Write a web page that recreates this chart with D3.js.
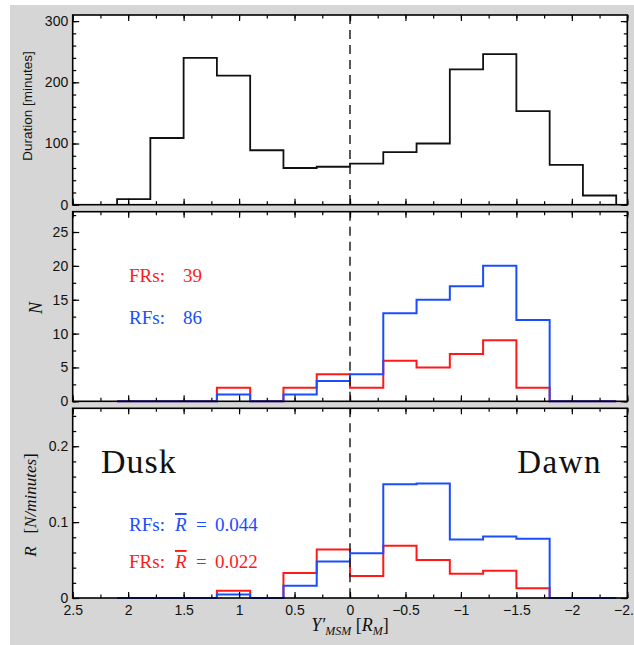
<!DOCTYPE html>
<html>
<head>
<meta charset="utf-8">
<script src="https://cdn.jsdelivr.net/npm/d3@7.9.0/dist/d3.min.js"></script>
<style>
  body { margin: 0; background: #fff; }
  svg text { font-family: "Liberation Sans", Arial, sans-serif; }
  .serif { font-family: "Liberation Serif", "Times New Roman", serif !important; }
</style>
</head>
<body>
<svg id="chart" width="634" height="645"></svg>
<script>
// bin edges along Y'_MSM (dusk on the left, dawn on the right)
const binEdges = [2.1, 1.8, 1.5, 1.2, 0.9, 0.6, 0.3, 0, -0.3, -0.6, -0.9, -1.2, -1.5, -1.8, -2.1, -2.4];

// time spent in each bin [minutes]
const duration = [9, 109, 240, 211, 89, 60, 62, 67, 86, 100, 221, 246, 153, 65, 15];

// event counts per bin
const countFR = [0, 0, 0, 2, 0, 2, 4, 2, 6, 5, 7, 9, 2, 0, 0];
const countRF = [0, 0, 0, 1, 0, 1, 3, 4, 13, 15, 17, 20, 12, 0, 0];

// rates per bin [N/minutes]
const rateFR = [0, 0, 0, 0.0094, 0, 0.033, 0.064, 0.029, 0.069, 0.050, 0.032, 0.036, 0.013, 0, 0];
const rateRF = [0, 0, 0, 0.0047, 0, 0.016, 0.048, 0.059, 0.150, 0.151, 0.077, 0.081, 0.078, 0, 0];

const xTicks = [2.5, 2, 1.5, 1, 0.5, 0, -0.5, -1, -1.5, -2, -2.5];

const RED = '#ff1a1a';
const BLUE = '#1a4dff';

const svg = d3.select('#chart');

// gray page behind the panels
svg.append('rect').attr('x', 10).attr('y', 5).attr('width', 624).attr('height', 640).attr('fill', '#d6d6d6');

const x = d3.scaleLinear().domain([2.5, -2.5]).range([72.7, 627.3]);

const panels = [
  { y: d3.scaleLinear().domain([0, 310]).range([204.7, 15]), major: [0, 100, 200, 300], minorStep: 20, fmt: d => d },
  { y: d3.scaleLinear().domain([0, 28]).range([401.3, 211.7]), major: [0, 5, 10, 15, 20, 25], minorStep: 2.5, fmt: d => d },
  { y: d3.scaleLinear().domain([0, 0.25]).range([598, 408.3]), major: [0, 0.1, 0.2], minorStep: 0.02, fmt: d => d3.format('~g')(d) },
];

function minorTicks(domain, step) {
  const out = [];
  for (let i = 0; i * step <= domain[1] + 1e-9; i++) out.push(+(i * step).toFixed(4));
  return out;
}

const xMinor = d3.range(0, 21).map(i => +(2.5 - i * 0.25).toFixed(2));

function drawStep(g, y, values, color, width) {
  const pts = [[binEdges[0], 0]];
  values.forEach((v, i) => pts.push([binEdges[i], v]));
  pts.push([binEdges[binEdges.length - 1], values[values.length - 1]]);
  pts.push([binEdges[binEdges.length - 1], 0]);
  const line = d3.line().x(d => x(d[0])).y(d => y(d[1])).curve(d3.curveStepAfter);
  g.append('path').attr('d', line(pts)).attr('fill', 'none')
    .attr('stroke', color).attr('stroke-width', width).attr('stroke-linejoin', 'miter');
}

panels.forEach((p, i) => {
  const g = svg.append('g');
  const [y0, y1] = p.y.range();
  g.append('rect').attr('x', x.range()[0]).attr('y', y1)
    .attr('width', x.range()[1] - x.range()[0]).attr('height', y0 - y1).attr('fill', '#fff');

  // data
  if (i === 0) {
    drawStep(g, p.y, duration, '#111', 1.8);
  } else if (i === 1) {
    drawStep(g, p.y, countFR, RED, 2);
    drawStep(g, p.y, countRF, BLUE, 2);
  } else {
    drawStep(g, p.y, rateFR, RED, 2);
    drawStep(g, p.y, rateRF, BLUE, 2);
  }

  // dashed line at Y' = 0
  g.append('line').attr('x1', x(0)).attr('x2', x(0)).attr('y1', y1).attr('y2', y0)
    .attr('stroke', '#222').attr('stroke-width', 1.5).attr('stroke-dasharray', '9,6');

  // axes: ticks drawn inward
  const axes = g.append('g').attr('class', 'axes');
  axes.append('g').attr('transform', `translate(${x.range()[0]},0)`)
    .call(d3.axisLeft(p.y).tickValues(p.major).tickSize(-6.5).tickPadding(4.5).tickFormat(p.fmt));
  axes.append('g').attr('transform', `translate(${x.range()[0]},0)`)
    .call(d3.axisLeft(p.y).tickValues(minorTicks(p.y.domain(), p.minorStep)).tickSize(-3.5).tickFormat(''));
  axes.append('g').attr('transform', `translate(${x.range()[1]},0)`)
    .call(d3.axisRight(p.y).tickValues(p.major).tickSize(-6.5).tickFormat(''));
  axes.append('g').attr('transform', `translate(${x.range()[1]},0)`)
    .call(d3.axisRight(p.y).tickValues(minorTicks(p.y.domain(), p.minorStep)).tickSize(-3.5).tickFormat(''));
  axes.append('g').attr('transform', `translate(0,${y1})`)
    .call(d3.axisTop(x).tickValues(xTicks).tickSize(-6).tickFormat(''));
  axes.append('g').attr('transform', `translate(0,${y1})`)
    .call(d3.axisTop(x).tickValues(xMinor).tickSize(-3.5).tickFormat(''));
  axes.append('g').attr('transform', `translate(0,${y0})`)
    .call(d3.axisBottom(x).tickValues(xTicks).tickSize(-6).tickPadding(7)
      .tickFormat(i === 2 ? d => d3.format('~g')(d) : ''));
  axes.append('g').attr('transform', `translate(0,${y0})`)
    .call(d3.axisBottom(x).tickValues(xMinor).tickSize(-3.5).tickFormat(''));

  axes.selectAll('.domain').remove();
  axes.selectAll('.tick line').attr('stroke', '#000').attr('stroke-width', 1.2);
  axes.selectAll('text').attr('font-size', 14).attr('fill', '#111')
    .style('font-family', '"Liberation Sans", Arial, sans-serif');

  // frame
  g.append('rect').attr('x', x.range()[0]).attr('y', y1)
    .attr('width', x.range()[1] - x.range()[0]).attr('height', y0 - y1)
    .attr('fill', 'none').attr('stroke', '#000').attr('stroke-width', 1.6);
});

// y-axis titles
svg.append('text').attr('transform', 'translate(32,106) rotate(-90)')
  .attr('text-anchor', 'middle').attr('font-size', 13.5).attr('fill', '#111')
  .text('Duration [minutes]');

svg.append('text').attr('class', 'serif').attr('transform', 'translate(42,308) rotate(-90)')
  .attr('text-anchor', 'middle').attr('font-size', 18).attr('font-style', 'italic').attr('fill', '#111')
  .text('N');

const rTitle = svg.append('text').attr('class', 'serif').attr('transform', 'translate(36,505) rotate(-90)')
  .attr('text-anchor', 'middle').attr('font-size', 17).attr('fill', '#111');
rTitle.append('tspan').attr('font-style', 'italic').text('R');
rTitle.append('tspan').text('\u2002 [');
rTitle.append('tspan').attr('font-style', 'italic').text('N/minutes');
rTitle.append('tspan').text(']');

// x-axis title
const xt = svg.append('text').attr('class', 'serif').attr('x', 350).attr('y', 631)
  .attr('text-anchor', 'middle').attr('font-size', 18).attr('fill', '#111');
xt.append('tspan').attr('font-style', 'italic').text('Y\u2032');
xt.append('tspan').attr('font-style', 'italic').attr('font-size', 12).attr('dy', 4).text('MSM');
xt.append('tspan').attr('dy', -4).text(' [');
xt.append('tspan').attr('font-style', 'italic').text('R');
xt.append('tspan').attr('font-style', 'italic').attr('font-size', 12).attr('dy', 4).text('M');
xt.append('tspan').attr('dy', -4).text(']');

// panel 2 annotations
function label(xp, yp, str, color, size) {
  return svg.append('text').attr('class', 'serif').attr('x', xp).attr('y', yp)
    .attr('font-size', size).attr('fill', color).text(str);
}
label(129, 282, 'FRs:', RED, 19);
label(183, 282, String(d3.sum(countFR)), RED, 19);
label(129, 324, 'RFs:', BLUE, 19);
label(183, 324, String(d3.sum(countRF)), BLUE, 19);

// panel 3 annotations
label(101, 473, 'Dusk', '#111', 34).attr('letter-spacing', 1);
label(602, 473, 'Dawn', '#111', 33).attr('text-anchor', 'end').attr('letter-spacing', 1.5);

function meanLabel(yp, name, value, color) {
  const t = svg.append('text').attr('class', 'serif').attr('y', yp)
    .attr('font-size', 19).attr('fill', color);
  t.append('tspan').attr('x', 129).text(name + ':');
  t.append('tspan').attr('x', 175).attr('font-style', 'italic').style('text-decoration', 'overline').text('R');
  t.append('tspan').attr('x', 196).text('=');
  t.append('tspan').attr('x', 215).text(value);
}
meanLabel(531, 'RFs', '0.044', BLUE);
meanLabel(568, 'FRs', '0.022', RED);
</script>
</body>
</html>
